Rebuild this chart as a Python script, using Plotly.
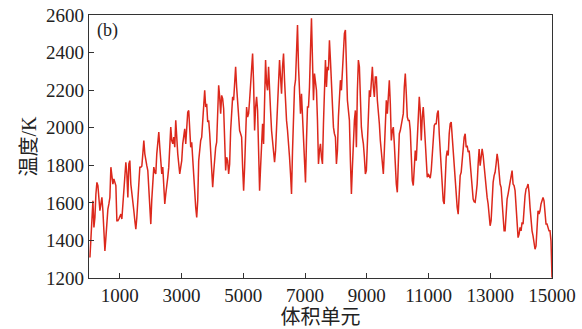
import numpy as np
import plotly.graph_objects as go

# Temperature (K) along the volume elements
temp_part1 = [1309, 1433, 1540, 1611, 1469, 1522, 1647, 1709, 1692, 1629, 1558, 1594, 1629, 1558, 1451, 1344,
              1415, 1522, 1567, 1594, 1629, 1790, 1718, 1700, 1727, 1709, 1692, 1505, 1505, 1514, 1531, 1540,
              1514, 1594, 1665, 1754, 1816, 1754, 1629, 1807, 1825, 1700, 1638, 1611, 1558, 1505, 1460, 1522,
              1629, 1736, 1790, 1790, 1795, 1861, 1932, 1861, 1816, 1798, 1772, 1665, 1540, 1487, 1620, 1700,
              1790, 1763, 1754, 1861, 1950, 1977, 1896, 1843, 1754, 1790, 1656, 1594, 1647, 1718, 1736, 1790,
              1914, 2003, 1932, 1914, 1950, 1896, 2039, 1932, 1861, 1807, 1754, 1790, 1825, 1914, 1968, 1994,
              1914, 1985, 2083, 2092, 1985, 1896, 1923, 1825, 1700, 1629, 1576, 1522, 1611, 1825, 1896, 1932,
              1950, 2057, 2164, 2199, 2110, 2128, 2030, 2039, 1968, 1861, 1754, 1683, 1763, 1852, 1896, 1923,
              2146, 2226, 2164, 2075, 2172, 2155, 2101, 1914, 1772, 1843, 1825, 1754, 1807, 1985, 2128, 2164,
              2146, 2217, 2324, 2217, 2128, 2057, 1985]
temp_part2 = [1968, 1950, 1790, 1665, 1790, 2003, 2110, 2057, 2075, 2146, 2235, 2324, 2395, 2235, 1985, 2110,
              2164, 2092, 1825, 1665, 1790, 1968, 2021, 1914, 2235, 2360, 2235, 2199, 2324, 2235, 2092, 1985,
              1914, 1843, 1816, 1878, 1985, 2110, 2217, 2360, 2270, 2181, 2324, 2395, 2253, 2092, 2039, 1985,
              1932, 1843, 1754, 1647, 1878, 2092, 2217, 2253, 2360, 2546, 2324, 2146, 2075, 2181, 2057, 1968,
              1861, 1709, 1932, 2110, 2110, 2217, 2413, 2582, 2360, 2146, 2288, 2253, 2199, 2039, 1807, 1878,
              1914, 1843, 1807, 2021, 2253, 2360, 2217, 2324, 2306, 2466, 2360, 2217, 2146, 2003, 1968, 1950,
              1807, 1878, 2057, 2164, 2253, 2199, 2324, 2360, 2502, 2520, 2324, 2146, 2092, 2039, 1825, 1647,
              1790, 1968, 2039, 2092, 1896, 2199, 2360, 2324, 2146, 2003, 1950, 1914, 1843, 1754, 1772, 1914,
              2057, 2199, 2164, 2288, 2324, 2217, 2164, 2270, 2270, 2146, 2092, 2021, 1932, 1861, 1790, 1754,
              1878, 2003, 2146, 2075, 2217, 2253, 2128, 1932, 1985, 2003, 1914, 1790, 1700, 1656, 1790, 1968]
temp_part3 = [1985, 2017, 2030, 2075, 2217, 2288, 2181, 2057, 2039, 2039, 1985, 1878, 1718, 1692, 1825, 1878,
              1825, 1932, 2092, 2164, 2092, 1932, 2057, 2110, 2021, 1896, 1772, 1736, 1754, 1736, 1731, 1772,
              1861, 1985, 2012, 2021, 2021, 2075, 2092, 1968, 1878, 1798, 1718, 1611, 1594, 1736, 1843, 1878,
              1852, 1968, 2021, 2030, 1950, 1861, 1790, 1736, 1665, 1576, 1540, 1665, 1745, 1763, 1825, 1896,
              1950, 1968, 1896, 1905, 1870, 1878, 1807, 1736, 1656, 1620, 1606, 1603, 1647, 1700, 1807, 1887,
              1798, 1843, 1887, 1852, 1790, 1718, 1665, 1629, 1594, 1540, 1478, 1505, 1629, 1709, 1745, 1763,
              1807, 1861, 1825, 1745, 1700, 1683, 1594, 1505, 1451, 1451, 1558, 1620, 1647, 1683, 1718, 1763,
              1772, 1700, 1692, 1665, 1576, 1469, 1415, 1433, 1469, 1451, 1496, 1487, 1594, 1638, 1674, 1683,
              1700, 1656, 1576, 1505, 1451, 1424, 1389, 1353, 1371, 1469, 1558, 1540, 1558, 1594, 1611, 1629,
              1611, 1558, 1487, 1487, 1469, 1451, 1451, 1398, 1202]

temperature = temp_part1 + temp_part2 + temp_part3
elements = np.linspace(30, 15000, len(temperature))  # volume element index (uniform sampling)

x_ticks = [1000, 3000, 5000, 7000, 9000, 11000, 13000, 15000]
y_ticks = [1200, 1400, 1600, 1800, 2000, 2200, 2400, 2600]

fig = go.Figure()
fig.add_trace(go.Scatter(x=elements, y=temperature, mode="lines",
                         line=dict(color="rgb(220,40,28)", width=1.5), showlegend=False))

font_main = "Liberation Serif, Noto Sans CJK SC, serif"
axis_common = dict(showline=True, linecolor="#333", linewidth=1.2, mirror=True, automargin=False,
                   ticks="inside", ticklen=5, tickcolor="#333", showgrid=False, zeroline=False,
                   tickfont=dict(family=font_main, size=19, color="#222"))

fig.update_layout(
    width=582, height=329,
    margin=dict(l=89, r=30, t=15, b=51),
    paper_bgcolor="white", plot_bgcolor="white",
    xaxis=dict(range=[0, 15000], tickvals=x_ticks, ticktext=[str(v) for v in x_ticks],
               title=dict(text="体积单元", font=dict(family=font_main, size=20, color="#222"), standoff=2),
               **axis_common),
    yaxis=dict(range=[1200, 2600], tickvals=y_ticks, ticktext=[str(v) for v in y_ticks],
               title=dict(text="温度/K", font=dict(family=font_main, size=20, color="#222"), standoff=4),
               **axis_common),
    annotations=[dict(text="(b)", x=0.012, y=0.99, xref="paper", yref="paper", xanchor="left", yanchor="top",
                      showarrow=False, font=dict(family=font_main, size=18, color="#222"))],
)

fig.write_html("out.html")
